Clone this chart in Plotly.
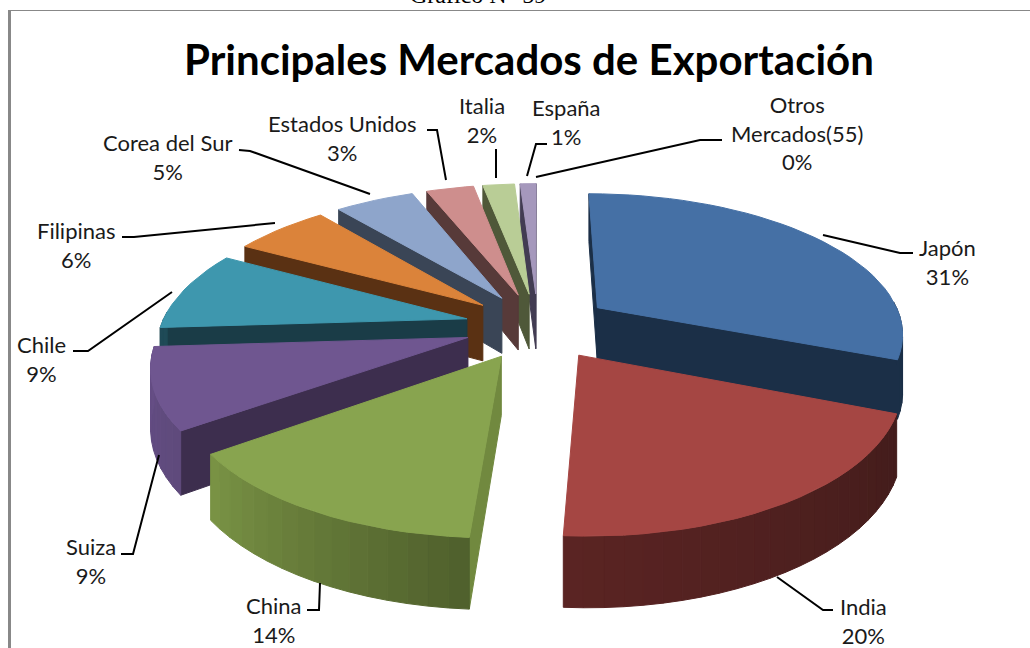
import math
import plotly.graph_objects as go

# ---- data ----
markets = ["Japón", "India", "China", "Suiza", "Chile", "Filipinas", "Corea del Sur",
           "Estados Unidos", "Italia", "España", "Otros<br>Mercados(55)"]
shares = [31, 20, 14, 9, 9, 6, 5, 3, 2, 1, 0]
title_text = "Principales Mercados de Exportación"
caption_text = "Gráfico N° 59"

# ---- styles ----
top_colors = ["#4570A5", "#A54643", "#88A44F", "#6F5690", "#3E97AE", "#DB833A",
              "#8EA5CB", "#CE8E8D", "#B9CD96", "#A598BC", "#F0A070"]
wall_colors = ["#1B2F47", "#431C1B", "#71893F", "#3D2E4E", "#1A3C47", "#5A3113",
               "#3A4556", "#573A39", "#4F5839", "#423C52", "#5A3113"]
rim_from = ["#1B2F47", "#431C1B", "#4F5F2C", "#5F4A7C", "#1F4A57", "#5A3113",
            "#3A4556", "#573A39", "#4F5839", "#423C52", "#5A3113"]
rim_to = ["#1B2F47", "#5A2423", "#7A9445", "#654E85", "#1F4A57", "#5A3113",
          "#3A4556", "#573A39", "#4F5839", "#423C52", "#5A3113"]

# projection of the tilted, exploded pie
CX, CY, R, BY, K, E, H = 538, 326, 306, 139, 0.17, 0.24, 57
START_DEG = 0.0


def project(X, Y, down=0.0):
    s = 1 / (1 - K * Y)
    return CX + R * X * s, CY + BY * Y * s + H * s * down


def hex_mix(a, b, t):
    ca = [int(a[i:i + 2], 16) for i in (1, 3, 5)]
    cb = [int(b[i:i + 2], 16) for i in (1, 3, 5)]
    return "#" + "".join(f"{round(x + (y - x) * t):02X}" for x, y in zip(ca, cb))


def poly(fig, pts, color):
    fig.add_trace(go.Scatter(x=[p[0] for p in pts] + [pts[0][0]],
                             y=[p[1] for p in pts] + [pts[0][1]],
                             mode="lines", fill="toself", fillcolor=color,
                             line=dict(color=color, width=1),
                             hoverinfo="skip", showlegend=False))


fig = go.Figure()

slices = []
acc = 0.0
total = sum(shares)
for i, v in enumerate(shares):
    a0 = START_DEG + acc / total * 360
    acc += v
    a1 = START_DEG + acc / total * 360
    if v > 0:
        slices.append((i, a0, a1))


def draw_slice(i, a0, a1):
    m = math.radians((a0 + a1) / 2)
    ox, oy = E * math.sin(m), -E * math.cos(m)

    def ground(deg):
        t = math.radians(deg)
        return ox + math.sin(t), oy - math.cos(t)

    n = max(6, int((a1 - a0) / 3))
    arc = [a0 + (a1 - a0) * j / n for j in range(n + 1)]
    apex = project(ox, oy)
    mid = project(*ground((a0 + a1) / 2))
    mid = ((mid[0] + apex[0]) / 2, (mid[1] + apex[1]) / 2)
    # radial walls that face the viewer
    for deg in (a0, a1):
        g = ground(deg)
        c = project(*g)
        dx = c[0] - apex[0]
        edge_y = apex[1] + (c[1] - apex[1]) * (mid[0] - apex[0]) / dx if abs(dx) > 1e-6 else -1e9
        if edge_y > mid[1]:
            poly(fig, [apex, c, project(*g, 1), project(ox, oy, 1)], wall_colors[i])
    # curved outer wall, front half only
    for j in range(n):
        d0, d1 = arc[j], arc[j + 1]
        if 88 <= (d0 + d1) / 2 <= 272:
            g0, g1 = ground(d0), ground(d1)
            col = hex_mix(rim_from[i], rim_to[i], (j + 0.5) / n)
            poly(fig, [project(*g0), project(*g1), project(*g1, 1), project(*g0, 1)], col)
    # top face
    poly(fig, [apex] + [project(*ground(d)) for d in arc], top_colors[i])


def depth(sl):
    return -math.cos(math.radians((sl[1] + sl[2]) / 2))


for sl in sorted(slices, key=depth):
    draw_slice(*sl)

# ---- label placement ----
label_centres = [(947, 262), (863, 621), (273, 620), (91, 561), (41, 359), (76, 245),
                 (167, 157), (342, 138), (482, 120), (566, 122), (797, 133)]
leaders = [
    [(823, 235), (900, 253), (913, 253)],
    [(777, 577), (823, 610), (833, 610)],
    [(320, 583), (319, 610), (307, 610)],
    [(159, 455), (133, 554), (121, 554)],
    [(172, 292), (88, 351), (73, 351)],
    [(275, 223), (134, 237), (122, 237)],
    [(370, 194), (250, 151), (239, 150)],
    [(446, 180), (437, 130), (427, 130)],
    [(496, 178), (496, 149)],
    [(527, 176), (536, 144), (547, 144)],
    [(536, 177), (700, 140), (722, 140)],
]

annotations = []
for name, v, (lx, ly) in zip(markets, shares, label_centres):
    annotations.append(dict(x=lx, y=ly, xref="x", yref="y", showarrow=False,
                            text=f"{name}<br>{v}%", align="center",
                            font=dict(family="Lato", size=22, color="#1A1A1A")))
annotations.append(dict(x=529, y=59, xref="x", yref="y", showarrow=False, text=f"<b>{title_text}</b>",
                        font=dict(family="Lato", size=42, color="#000000")))
annotations.append(dict(x=478, y=1, xref="x", yref="y", showarrow=False, text=caption_text,
                        yanchor="bottom", yshift=-9,
                        font=dict(family="Liberation Serif", size=24, color="#000000")))

shapes = []
for pts in leaders:
    path = "M " + " L ".join(f"{x},{y}" for x, y in pts)
    shapes.append(dict(type="path", path=path, xref="x", yref="y",
                       line=dict(color="#000000", width=2)))
# chart frame
shapes.append(dict(type="line", x0=8, x1=1030, y0=10.5, y1=10.5, xref="x", yref="y",
                   line=dict(color="#888888", width=1)))
shapes.append(dict(type="line", x0=9.5, x1=9.5, y0=10, y1=648, xref="x", yref="y",
                   line=dict(color="#888888", width=3)))

fig.update_layout(
    width=1030, height=648, margin=dict(l=0, r=0, t=0, b=0),
    paper_bgcolor="#FFFFFF", plot_bgcolor="#FFFFFF",
    xaxis=dict(range=[0, 1030], visible=False, fixedrange=True),
    yaxis=dict(range=[648, 0], visible=False, fixedrange=True),
    annotations=annotations, shapes=shapes, showlegend=False,
)
fig.write_html("out.html", config={"displayModeBar": False},
               post_script="document.body.style.margin='0';document.body.style.overflow='hidden';")
